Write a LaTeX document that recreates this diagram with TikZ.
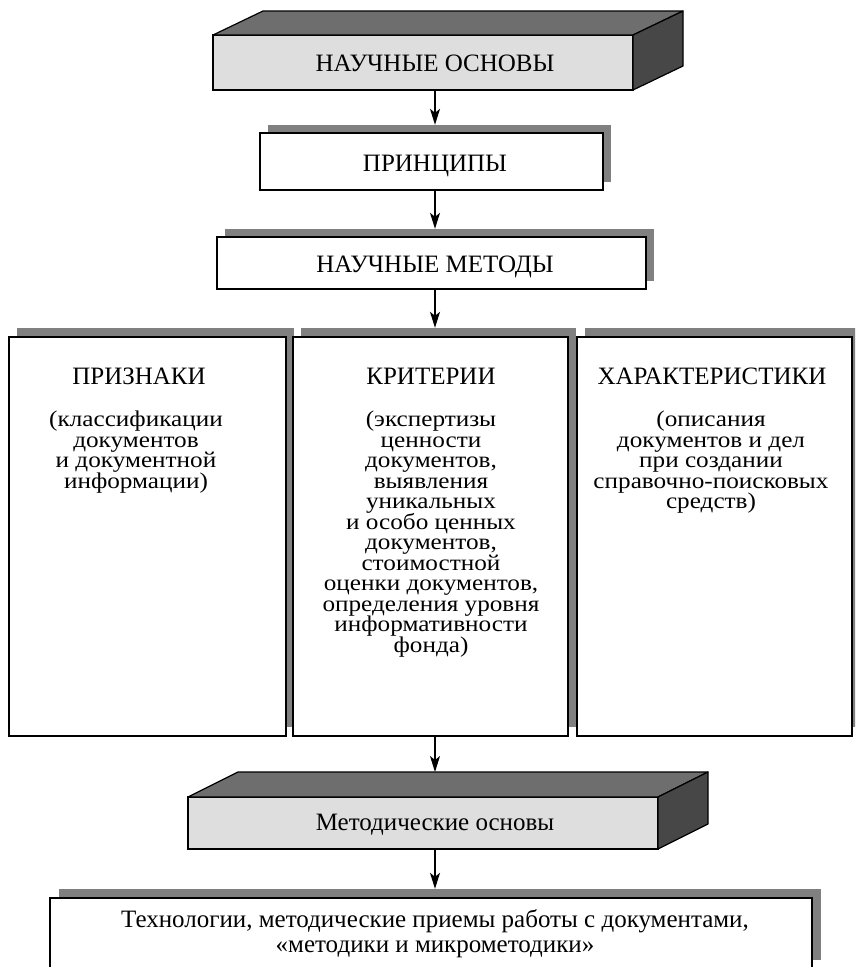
\documentclass[tikz,border=0pt]{standalone}
\usepackage{fontspec}
\setmainfont{Liberation Serif}
\newfontfamily\fbody[FakeStretch=1.12]{Liberation Serif}
\newcommand\tightlines{\lineskiplimit=-50pt\relax\lineskip=0pt\relax}
\usetikzlibrary{arrows.meta}
\definecolor{shad}{gray}{0.5}
\definecolor{frontc}{gray}{0.87}
\definecolor{topc}{gray}{0.43}
\definecolor{sidec}{gray}{0.28}
\begin{document}
\begin{tikzpicture}[x=1pt,y=-1pt,
  edge/.style={draw=black, line width=1.2pt},
  plainbox/.style={edge, fill=white, inner sep=0pt},
  frontface/.style={edge, fill=frontc, inner sep=0pt},
  shadowbox/.style={fill=shad, inner sep=0pt},
  topface/.style={edge, fill=topc, line join=round},
  sideface/.style={edge, fill=sidec, line join=round},
  arr/.style={line width=1.2pt, -{Stealth[length=16pt,width=10pt,inset=4pt]}},
  lbl/.style={inner sep=0pt, font=\fontsize{25}{22}\selectfont},
  lblbody/.style={inner sep=0pt, font=\fbody\fontsize{22.5}{20.5}\selectfont\tightlines},
  lbltwo/.style={inner sep=0pt, font=\fontsize{25}{25}\selectfont},
]
\useasboundingbox (0,0) rectangle (855,967);
\clip (0,0) rectangle (855,967);
\coordinate (ax) at (435,0);

% top 3D box
\node[frontface, minimum width=420pt, minimum height=55pt] (osn) at (423,62.5) {};
\draw[topface] (213,35) -- (263,11) -- (683,11) -- (633,35) -- cycle;
\draw[sideface] (633,35) -- (683,11) -- (683,66) -- (633,90) -- cycle;
\node[lbl, anchor=base] (osnT) at (435,71) {НАУЧНЫЕ ОСНОВЫ};

% principles
\node[shadowbox, minimum width=343pt, minimum height=57pt] (prinS) at (439.5,153.5) {};
\node[plainbox, minimum width=343pt, minimum height=57pt] (prin) at (431.5,161.5) {};
\node[lbl, anchor=base] (prinT) at (435,171) {ПРИНЦИПЫ};

% methods
\node[shadowbox, minimum width=429pt, minimum height=52pt] (metS) at (439.5,255) {};
\node[plainbox, minimum width=429pt, minimum height=52pt] (met) at (431.5,263) {};
\node[lbl, anchor=base] (metT) at (435,272) {НАУЧНЫЕ МЕТОДЫ};

% three columns
\node[shadowbox, minimum width=277pt, minimum height=399pt] (leftS) at (155.5,527.5) {};
\node[shadowbox, minimum width=275pt, minimum height=399pt] (midS) at (438.5,527.5) {};
\node[shadowbox, minimum width=275pt, minimum height=399pt] (rightS) at (722.5,527.5) {};
\node[plainbox, minimum width=277pt, minimum height=399pt] (left) at (147.5,536.5) {};
\node[plainbox, minimum width=275pt, minimum height=399pt] (mid) at (430.5,536.5) {};
\node[plainbox, minimum width=275pt, minimum height=399pt] (right) at (714.5,536.5) {};

\node[lbl, anchor=base] (leftT) at (139,384) {ПРИЗНАКИ};
\node[lbl, anchor=base] (midT) at (431,384) {КРИТЕРИИ};
\node[lbl, anchor=base] (rightT) at (712,384) {ХАРАКТЕРИСТИКИ};

\node[lblbody, anchor=north, align=center] (leftB) at (136,411)
  {(классификации\\документов\\и документной\\информации)};
\node[lblbody, anchor=north, align=center] (midB) at (431,411)
  {(экспертизы\\ценности\\документов,\\выявления\\уникальных\\и особо ценных\\документов,\\стоимостной\\оценки документов,\\определения уровня\\информативности\\фонда)};
\node[lblbody, anchor=north, align=center] (rightB) at (711,411)
  {(описания\\документов и дел\\при создании\\справочно-поисковых\\средств)};

% bottom 3D box
\node[frontface, minimum width=470pt, minimum height=52pt] (mos) at (423,823) {};
\draw[topface] (188,797) -- (238,772) -- (708,772) -- (658,797) -- cycle;
\draw[sideface] (658,797) -- (708,772) -- (708,824) -- (658,849) -- cycle;
\coordinate (mosback) at (473,772);
\node[lbltwo, anchor=base] (mosT) at (435,830) {Методические основы};

% technologies
\node[shadowbox, minimum width=762pt, minimum height=71pt] (techS) at (440,924.5) {};
\node[plainbox, minimum width=762pt, minimum height=71pt] (tech) at (431,933.5) {};
\node[lbltwo, anchor=base] (techT1) at (435,927) {Технологии, методические приемы работы с документами,};
\node[lbltwo, anchor=base] (techT2) at (435,952) {«методики и микрометодики»};

% arrows
\draw[arr] (osn.south -| ax) -- (prinS.north -| ax);
\draw[arr] (prin.south -| ax) -- (metS.north -| ax);
\draw[arr] (met.south -| ax) -- (midS.north -| ax);
\draw[arr] (mid.south -| ax) -- (mosback -| ax);
\draw[arr] (mos.south -| ax) -- (techS.north -| ax);
\end{tikzpicture}
\end{document}
